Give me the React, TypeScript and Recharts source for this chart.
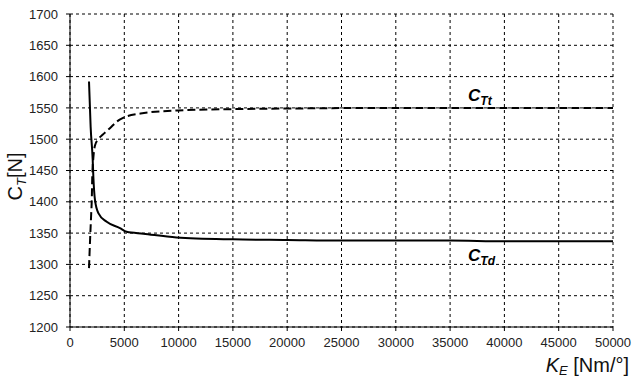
import React from 'react';
import {
  LineChart,
  Line,
  XAxis,
  YAxis,
  CartesianGrid,
  ReferenceDot,
  Label
} from 'recharts';

// C_Td curve (solid)
const tdK = [1750, 1900, 2090, 2150, 2300, 2610, 3380, 4600, 5220, 6750, 9800, 15000, 20000, 25000, 30000, 35000, 40000, 45000, 50000];
const tdC = [1592, 1520, 1467, 1440, 1403, 1382, 1368, 1358, 1352, 1349, 1343, 1340, 1339, 1338, 1338, 1338, 1337, 1337, 1337];

// C_Tt curve (dashed)
const ttK = [1750, 1850, 1950, 2000, 2050, 2150, 2300, 2600, 3000, 3700, 4300, 5000, 6500, 10000, 15000, 20000, 30000, 40000, 50000];
const ttC = [1294, 1340, 1380, 1400, 1440, 1470, 1490, 1500, 1507, 1518, 1528, 1535, 1541, 1546, 1548, 1549, 1550, 1550, 1550];

const xTicks = [0, 5000, 10000, 15000, 20000, 25000, 30000, 35000, 40000, 45000, 50000];
const yTicks = [1200, 1250, 1300, 1350, 1400, 1450, 1500, 1550, 1600, 1650, 1700];

const tdData = tdK.map((k, i) => ({ k, c: tdC[i] }));
const ttData = ttK.map((k, i) => ({ k, c: ttC[i] }));

const font = '"Liberation Sans", Arial, sans-serif';

const YTitle = (props: any) => {
  const { viewBox } = props;
  const cx = 22;
  const cy = viewBox.y + viewBox.height / 2 + 6;
  return (
    <text x={cx} y={cy} transform={`rotate(-90 ${cx} ${cy})`} textAnchor="middle" fontFamily={font} fontSize={20} fill="#111">
      C<tspan fontSize={13} dy={4} fontStyle="italic">T</tspan><tspan dy={-4}>[N]</tspan>
    </text>
  );
};

const XTitle = (props: any) => {
  const { viewBox } = props;
  const x = viewBox.x + viewBox.width + 16;
  return (
    <text x={x} y={372} textAnchor="end" fontFamily={font} fontSize={20} fill="#111">
      <tspan fontStyle="italic">K</tspan><tspan fontSize={13} dy={3} fontStyle="italic">E</tspan><tspan dy={-3}> [Nm/°]</tspan>
    </text>
  );
};

const CurveName = (sub: string) => (props: any) => {
  const { viewBox } = props;
  return (
    <text x={viewBox.x} y={viewBox.y} fontFamily={font} fontWeight="bold" fontStyle="italic" fontSize={17} fill="#000">
      C<tspan fontSize={12} dy={4}>{sub}</tspan>
    </text>
  );
};

export default function App() {
  return (
    <div style={{ position: 'absolute', left: 0, top: 0, background: '#fff' }}>
      <LineChart width={633} height={380} margin={{ top: 14, right: 20, left: 8, bottom: 23 }}>
        <CartesianGrid stroke="#000" strokeDasharray="3 3" strokeWidth={1} />
        <XAxis
          type="number"
          dataKey="k"
          domain={[0, 50000]}
          ticks={xTicks}
          interval={0}
          height={30}
          allowDuplicatedCategory={false}
          tickSize={4}
          tickMargin={7}
          stroke="#000"
          tick={{ fill: '#222', fontSize: 13, fontFamily: font }}
        >
          <Label content={<XTitle />} />
        </XAxis>
        <YAxis
          type="number"
          domain={[1200, 1700]}
          ticks={yTicks}
          interval={0}
          width={62}
          tickSize={4}
          tickMargin={8}
          stroke="#000"
          tick={{ fill: '#222', fontSize: 13, fontFamily: font }}
        >
          <Label content={<YTitle />} />
        </YAxis>
        <Line
          data={ttData}
          dataKey="c"
          type="monotone"
          stroke="#000"
          strokeWidth={2}
          strokeDasharray="8 4"
          dot={false}
          isAnimationActive={false}
        />
        <Line
          data={tdData}
          dataKey="c"
          type="monotone"
          stroke="#000"
          strokeWidth={2}
          dot={false}
          isAnimationActive={false}
        />
        <ReferenceDot x={36650} y={1561} r={0} label={CurveName('Tt')} />
        <ReferenceDot x={36650} y={1305} r={0} label={CurveName('Td')} />
      </LineChart>
    </div>
  );
}
